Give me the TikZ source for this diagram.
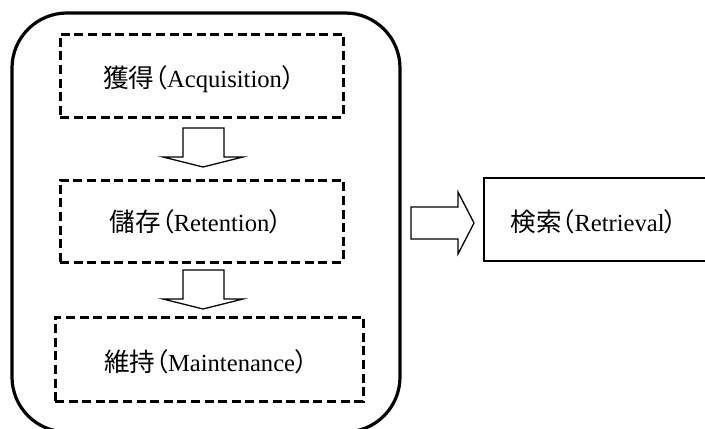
\documentclass[tikz,border=0pt]{standalone}
\usepackage{fontspec}
\setmainfont{Liberation Serif}
\newfontfamily\cjk[RawFeature=+palt, Scale=1.04]{Noto Sans CJK JP}
\tikzset{
  stage/.style={draw, line width=1.5pt, dash pattern=on 4.5pt off 2.3pt, inner sep=0pt},
  outer/.style={draw, line width=1.6pt, rounded corners=27.5pt},
  fatarrow/.style={draw, line width=0.65pt, fill=white, line join=miter},
  lbl/.style={font=\fontsize{12.3}{14}\selectfont, inner sep=0pt}
}
\begin{document}
\begin{tikzpicture}[x=0.5pt,y=-0.5pt]
\useasboundingbox (0,0) rectangle (705,428);
\begin{scope}
\clip (0,0) rectangle (705,428);
\draw[outer] (12,13) rectangle (400,432);
\coordinate (r1) at (484,178);
\coordinate (r2) at (484,261);
\draw[line width=1pt] ([xshift=120pt]r1) -- (r1) -- (r2) -- ([xshift=120pt]r2);
\end{scope}
% dashed stage boxes
\node[stage, minimum width=141.5pt, minimum height=41.5pt] (b1) at (201.5,75.5) {};
\node[stage, minimum width=141.5pt, minimum height=41pt] (b2) at (201.5,221) {};
\node[stage, minimum width=154pt, minimum height=42pt] (b3) at (209,359) {};
\node[lbl] (t1) at (199,79) {{\cjk 獲得（}Acquisition{\cjk ）}};
\node[lbl] (t2) at (196,222) {{\cjk 儲存（}Retention{\cjk ）}};
\node[lbl] (t3) at (206,362) {{\cjk 維持（}Maintenance{\cjk ）}};
\node[lbl] (t4) at (594,222) {{\cjk 検索（}Retrieval{\cjk ）}};
% block arrows
\draw[fatarrow] (183,128) -- (224,128) -- (224,157) -- (243,157) -- (203,167) -- (163,157) -- (183,157) -- cycle;
\draw[fatarrow] (183,270) -- (224,270) -- (224,299) -- (243,299) -- (203,309) -- (163,299) -- (183,299) -- cycle;
\draw[fatarrow] (411,207) -- (458,207) -- (458,192) -- (474,223) -- (458,254) -- (458,239) -- (411,239) -- cycle;
\end{tikzpicture}
\end{document}
